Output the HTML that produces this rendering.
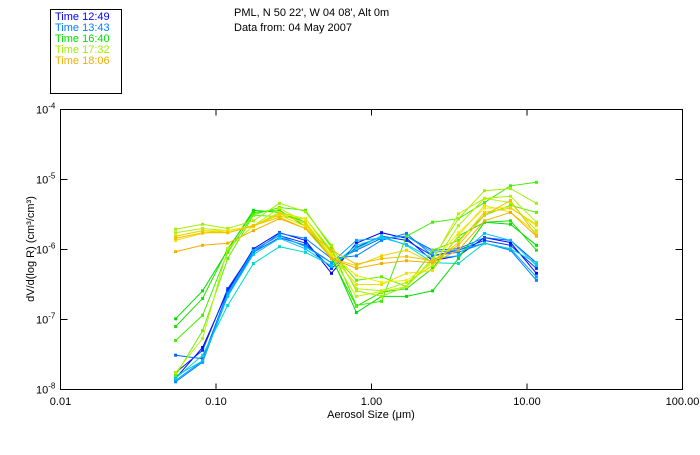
<!DOCTYPE html>
<html><head><meta charset="utf-8">
<style>
html,body{margin:0;padding:0;background:#fff;}
body{width:700px;height:450px;overflow:hidden;font-family:"Liberation Sans",sans-serif;}
svg text{font-family:"Liberation Sans",sans-serif;}
</style></head>
<body>
<svg id="chart" width="700" height="450" viewBox="0 0 700 450">
  <rect x="0" y="0" width="700" height="450" fill="#fff"/>
  <g>
    <rect x="50.5" y="9.5" width="71" height="84" fill="none" stroke="#000"/>
    <text x="55" y="20" font-size="11" fill="#0000ff">Time 12:49</text>
    <text x="55" y="31" font-size="11" fill="#0080ff">Time 13:43</text>
    <text x="55" y="42" font-size="11" fill="#00e000">Time 16:40</text>
    <text x="55" y="53" font-size="11" fill="#a0f000">Time 17:32</text>
    <text x="55" y="64" font-size="11" fill="#f0b000">Time 18:06</text>
  </g>
  <text x="234" y="16" font-size="11">PML, N 50 22', W 04 08', Alt 0m</text>
  <text x="234" y="31" font-size="11">Data from: 04 May 2007</text>
  <rect x="60.5" y="109.5" width="622" height="280" fill="none" stroke="#000"/>
  <g id="axes"></g>
  <g id="series"></g>
  <text x="371" y="418" font-size="11" text-anchor="middle">Aerosol Size (μm)</text>
  <text transform="translate(34,249) rotate(-90)" font-size="11" text-anchor="middle">dV/d(log R) (cm³/cm³)</text>
</svg>
<script>
// Particle sizes (µm)
const sizes = [0.055,0.082,0.119,0.174,0.256,0.376,0.553,0.80,1.16,1.68,2.47,3.62,5.33,7.83,11.5];
// x tick labels
const xTicks = [0.01,0.1,1,10,100];
const xTickLabels = ["0.01","0.10","1.00","10.00","100.00"];
// y tick exponents
const yTickExps = [-4,-5,-6,-7,-8];
// log10(dV/dlogR) per series
const s1 = [-7.84,-7.40,-6.59,-5.99,-5.76,-5.87,-6.34,-5.91,-5.76,-5.84,-6.16,-6.09,-5.83,-5.90,-6.34];
const s2 = [-7.76,-7.44,-6.56,-6.01,-5.80,-5.91,-6.27,-5.97,-5.81,-5.87,-6.09,-6.01,-5.87,-5.94,-6.27];
const s3 = [-7.51,-7.56,-6.61,-6.04,-5.83,-5.94,-6.19,-6.01,-5.84,-5.81,-6.01,-5.99,-5.83,-5.87,-6.19];
const s4 = [-7.89,-7.61,-6.66,-6.04,-5.77,-5.84,-6.13,-6.09,-5.87,-5.77,-6.09,-6.04,-5.91,-6.01,-6.44];
const s5 = [-7.87,-7.59,-6.63,-6.01,-5.80,-5.96,-6.19,-5.87,-5.84,-5.81,-6.04,-6.01,-5.91,-5.99,-6.39];
const s6 = [-7.84,-7.51,-6.80,-6.20,-5.96,-6.04,-6.23,-5.99,-5.81,-5.94,-6.19,-6.20,-5.91,-5.99,-6.19];
const s7 = [-7.81,-7.59,-6.67,-6.07,-5.84,-5.99,-6.24,-5.94,-5.83,-5.93,-6.13,-6.09,-5.77,-5.87,-6.23];
const s8 = [-6.99,-6.59,-6.01,-5.44,-5.47,-5.61,-6.10,-6.90,-6.67,-6.67,-6.59,-6.13,-5.61,-5.64,-5.94];
const s9 = [-7.10,-6.70,-5.99,-5.47,-5.44,-5.67,-6.13,-6.81,-6.61,-6.56,-6.27,-5.81,-5.61,-5.59,-6.01];
const s10 = [-7.30,-6.94,-6.04,-5.50,-5.40,-5.44,-5.97,-6.80,-6.74,-5.81,-5.61,-5.56,-5.33,-5.09,-5.04];
const s11 = [-7.80,-7.16,-6.13,-5.51,-5.53,-5.56,-6.04,-6.44,-6.39,-6.53,-6.01,-5.87,-5.51,-5.37,-5.47];
const s12 = [-5.71,-5.64,-5.70,-5.59,-5.34,-5.46,-5.94,-6.59,-6.67,-6.53,-6.13,-5.56,-5.16,-5.13,-5.34];
const s13 = [-5.76,-5.70,-5.73,-5.66,-5.47,-5.56,-6.01,-6.56,-6.59,-6.47,-6.23,-5.66,-5.27,-5.24,-5.61];
const s14 = [-7.76,-7.27,-5.99,-5.66,-5.41,-5.61,-6.10,-6.67,-6.60,-6.53,-6.16,-5.49,-5.27,-5.33,-5.73];
const s15 = [-5.81,-5.73,-5.73,-5.66,-5.49,-5.56,-6.07,-6.37,-6.47,-6.44,-6.20,-5.76,-5.41,-5.40,-5.66];
const s16 = [-5.87,-5.77,-5.73,-5.66,-5.51,-5.67,-6.09,-6.50,-6.50,-6.34,-6.30,-5.80,-5.37,-5.47,-5.76];
const s17 = [-5.81,-5.73,-5.76,-5.67,-5.49,-5.63,-6.13,-6.23,-6.09,-6.01,-6.19,-5.90,-5.47,-5.41,-5.64];
const s18 = [-6.03,-5.94,-5.91,-5.73,-5.56,-5.70,-6.13,-6.27,-6.20,-6.16,-6.19,-6.01,-5.59,-5.47,-5.81];
const s19 = [-5.84,-5.76,-5.76,-5.66,-5.54,-5.70,-6.01,-6.21,-6.13,-6.10,-6.16,-5.94,-5.51,-5.30,-5.80];
const seriesList = [s1,s2,s3,s4,s5,s6,s7,s8,s9,s10,s11,s12,s13,s14,s15,s16,s17,s18,s19];
const seriesColors = ["#0000ff","#0030ff","#0060ff","#0080ff","#00a0ff","#00d8d0","#00c0ff","#00e000","#20e000","#40f000","#60f000","#a0f000","#b0f000","#c0f000","#f0f000","#f0e000","#f0d000","#f0b000","#f0c000"];

const L=60.5,R=682.5,T=109.5,B=389.5;
const xScale = v => L + (Math.log10(v)+2)/4*(R-L);
const yScale = lg => T + (-4-lg)/4*(B-T);
const NS="http://www.w3.org/2000/svg";
const axes=document.getElementById('axes');
function mk(tag,attrs,parent){const e=document.createElementNS(NS,tag);for(const k in attrs)e.setAttribute(k,attrs[k]);parent.appendChild(e);return e;}

xTicks.forEach((v,i)=>{
  const x=xScale(v);
  if(i>0&&i<xTicks.length-1){
    const t1=mk('line',{x1:x,x2:x,y1:B,y2:B-6,stroke:'#000'},axes);
    
    
    const t2=mk('line',{x1:x,x2:x,y1:T,y2:T+6,stroke:'#000'},axes);
    
    
  }
  const tx=mk('text',{x:x,y:405,'font-size':11,'text-anchor':'middle'},axes);
  tx.textContent=xTickLabels[i];
  
  
});
yTickExps.forEach((e,i)=>{
  const y=yScale(e);
  if(i>0&&i<yTickExps.length-1){
    const t1=mk('line',{x1:L,x2:L+7,y1:y,y2:y,stroke:'#000'},axes);
    
    
    const t2=mk('line',{x1:R,x2:R-7,y1:y,y2:y,stroke:'#000'},axes);
    
    
  }
  const tx=mk('text',{x:36,y:y+4,'font-size':11},axes);
  tx.innerHTML='10<tspan dy="-5" font-size="8">'+e+'</tspan>';
  
  
});
const sg=document.getElementById('series');
seriesList.forEach((s,si)=>{
  const g=mk('g',{},sg);
  
  
  const pts=s.map((v,i)=>xScale(sizes[i]).toFixed(1)+','+yScale(v).toFixed(1)).join(' ');
  const pl=mk('polyline',{points:pts,fill:'none',stroke:seriesColors[si],'stroke-width':1},g);
  
  
  s.forEach((v,i)=>{
    const r=mk('rect',{x:xScale(sizes[i])-1.5,y:yScale(v)-1.5,width:3,height:3,fill:seriesColors[si]},g);
    
    
  });
});
</script>
</body></html>
